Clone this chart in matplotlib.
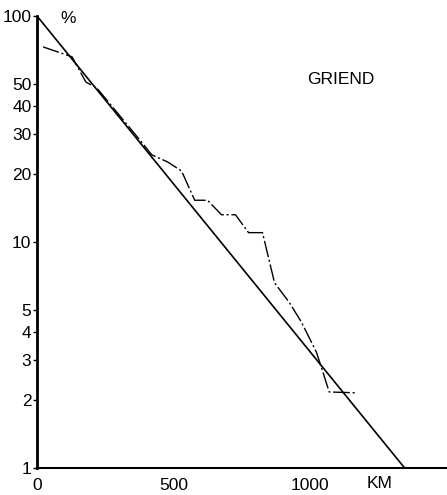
import matplotlib.pyplot as plt
import numpy as np

plt.rcParams['font.family'] = ['Liberation Sans', 'DejaVu Sans']

# Reference line: exponential decline from 100 % at 0 km to 1 % at ~1345 km
line_km = [0, 1345]
line_pct = [100, 1]

# Observed distribution (dash-dot curve)
obs_km = [22, 128, 179, 219, 376, 420, 478, 529, 577, 624, 675, 726,
          774, 825, 869, 923, 967, 1022, 1040, 1069, 1172]
obs_pct = [73, 66, 51, 48, 28.3, 24.3, 22.6, 20.6, 15.3, 15.3, 13.2, 13.2,
           11.0, 11.0, 6.6, 5.4, 4.43, 3.26, 2.8, 2.17, 2.15]

y_ticks = [1, 2, 3, 4, 5, 10, 20, 30, 40, 50, 100]
x_ticks = [0, 500, 1000]

W, H = 447, 495
fig = plt.figure(figsize=(W / 100, H / 100), dpi=100)
ax = fig.add_axes([37 / W, (H - 468) / H, (W - 37) / W, (468 - 16) / H])

ax.plot(line_km, line_pct, color='black', linewidth=1.2)
ax.plot(obs_km, obs_pct, color='black', linewidth=1.0,
        linestyle=(0, (12, 2, 1.5, 2)))

ax.set_yscale('log')
ax.set_ylim(1, 100)
ax.set_xlim(0, 1500)

ax.set_yticks(y_ticks)
ax.set_yticklabels([str(t) for t in y_ticks])
ax.yaxis.set_minor_locator(plt.NullLocator())
ax.set_xticks(x_ticks)
ax.set_xticklabels([str(t) for t in x_ticks])

ax.tick_params(axis='y', length=3, width=1, pad=1, labelsize=12.5)
ax.tick_params(axis='x', length=0, pad=7, labelsize=12.5)

for side in ['top', 'right']:
    ax.spines[side].set_visible(False)
ax.spines['left'].set_linewidth(2)
ax.spines['bottom'].set_linewidth(1.5)
ax.spines['left'].set_zorder(3)

ax.text(0.075, 0.995, '%', transform=ax.transAxes, fontsize=12.5,
        ha='center', va='center')
ax.text(0.74, 0.86, 'GRIEND', transform=ax.transAxes, fontsize=12.5,
        ha='center', va='center')
ax.text(1252, -0.035, 'KM', transform=ax.get_xaxis_transform(), fontsize=12.5,
        ha='center', va='center')

fig.savefig('out.png', dpi=100)
